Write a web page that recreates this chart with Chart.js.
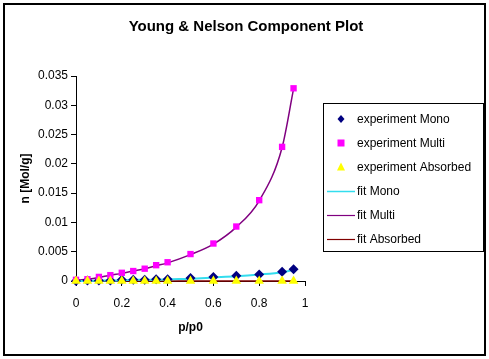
<!DOCTYPE html>
<html>
<head>
<meta charset="utf-8">
<script src="https://cdn.jsdelivr.net/npm/chart.js@4/dist/chart.umd.min.js"></script>
<style>
html,body{margin:0;padding:0;background:#fff;}
#wrap{width:489px;height:359px;position:relative;}
</style>
</head>
<body>
<div id="wrap"><canvas id="c" width="489" height="359"></canvas></div>
<script>
const pressure = [0, 0.05, 0.1, 0.15, 0.2, 0.25, 0.3, 0.35, 0.4, 0.5, 0.6, 0.7, 0.8, 0.9, 0.95];
const expMono = [0.0000, 0.0001, 0.0001, 0.0001, 0.0002, 0.0002, 0.0002, 0.0003, 0.0003, 0.0005, 0.0007, 0.0009, 0.0011, 0.0016, 0.0020];
const expMulti = [0.0002, 0.0003, 0.0007, 0.0010, 0.0014, 0.0017, 0.0021, 0.0027, 0.0032, 0.0046, 0.0064, 0.0093, 0.0138, 0.0229, 0.0329];
const expAbsorbed = [0, 0, 0, 0, 0, 0, 0, 0, 0, 0, 0, 0, 0, 0, 0];
const fitMono = [0.0000, 0.0000, 0.0001, 0.0001, 0.0001, 0.0002, 0.0002, 0.0002, 0.0003, 0.0004, 0.0006, 0.0008, 0.0011, 0.0015, 0.0019];
const fitMulti = [0.0001, 0.0003, 0.0006, 0.0010, 0.0013, 0.0017, 0.0021, 0.0026, 0.0031, 0.0045, 0.0063, 0.0092, 0.0137, 0.0228, 0.0328];
const fitAbsorbed = [0, 0, 0, 0, 0, 0, 0, 0, 0, 0, 0, 0, 0, 0, 0];
const yTicks = [0, 0.005, 0.01, 0.015, 0.02, 0.025, 0.03, 0.035];
const xTicks = [0, 0.2, 0.4, 0.6, 0.8, 1];
const chartTitle = 'Young & Nelson Component Plot';

const pts = arr => pressure.map((x, i) => ({x: x, y: arr[i]}));
const FONT = "'Liberation Sans', Arial, sans-serif";

const datasets = [
  {label: 'experiment Mono', data: pts(expMono), showLine: false, pointStyle: 'rectRot', pointRadius: 5, backgroundColor: '#000080', borderColor: '#000080', borderWidth: 0, order: 2, clip: false},
  {label: 'experiment Multi', data: pts(expMulti), showLine: false, pointStyle: 'rect', pointRadius: 4.5, backgroundColor: '#FF00FF', borderColor: '#FF00FF', borderWidth: 0, order: 1, clip: false},
  {label: 'experiment Absorbed', data: pts(expAbsorbed), showLine: false, pointStyle: 'triangle', pointRadius: 5.5, backgroundColor: '#FFFF00', borderColor: '#FFFF00', borderWidth: 0, order: 0, clip: false},
  {label: 'fit Mono', data: pts(fitMono), showLine: true, pointRadius: 0, borderColor: '#33DDEE', borderWidth: 2, cubicInterpolationMode: 'monotone', order: 3, clip: false},
  {label: 'fit Multi', data: pts(fitMulti), showLine: true, pointRadius: 0, borderColor: '#800080', borderWidth: 1.5, cubicInterpolationMode: 'monotone', order: 4, clip: false},
  {label: 'fit Absorbed', data: pts(fitAbsorbed), showLine: true, pointRadius: 0, borderColor: '#800000', borderWidth: 1.5, cubicInterpolationMode: 'monotone', order: 5, clip: false}
];

const framePlugin = {
  id: 'frame',
  afterDraw(chart) {
    const ctx = chart.ctx;
    ctx.save();
    ctx.strokeStyle = '#000';
    ctx.lineWidth = 2;
    ctx.strokeRect(4, 4, 481, 351);
    ctx.fillStyle = '#000';
    ctx.font = 'bold 15px ' + FONT;
    ctx.textAlign = 'center';
    ctx.textBaseline = 'middle';
    ctx.fillText(chartTitle, 246, 27);
    const lx = 323.5, ly = 103.5, lw = 160, lh = 148;
    ctx.lineWidth = 1;
    ctx.strokeRect(lx, ly, lw, lh);
    ctx.font = '12px ' + FONT;
    ctx.textAlign = 'left';
    chart.data.datasets.forEach((ds, i) => {
      const y = 119 + i * 24;
      const cx = 341;
      if (ds.showLine) {
        ctx.strokeStyle = ds.borderColor;
        ctx.lineWidth = ds.borderWidth > 1.5 ? 1.5 : 1.2;
        ctx.beginPath();
        ctx.moveTo(327, y + 0.5);
        ctx.lineTo(355, y + 0.5);
        ctx.stroke();
      } else {
        ctx.fillStyle = ds.backgroundColor;
        ctx.beginPath();
        if (ds.pointStyle === 'rect') {
          ctx.rect(cx - 3.5, y - 3.5, 7, 7);
        } else if (ds.pointStyle === 'rectRot') {
          ctx.moveTo(cx, y - 4); ctx.lineTo(cx + 3.5, y); ctx.lineTo(cx, y + 4); ctx.lineTo(cx - 3.5, y); ctx.closePath();
        } else {
          ctx.moveTo(cx, y - 4.5); ctx.lineTo(cx + 4, y + 3.5); ctx.lineTo(cx - 4, y + 3.5); ctx.closePath();
        }
        ctx.fill();
      }
      ctx.fillStyle = '#000';
      ctx.fillText(ds.label, 357, y + 0.5);
    });
    ctx.restore();
  }
};

new Chart(document.getElementById('c'), {
  type: 'scatter',
  data: {datasets: datasets},
  options: {
    responsive: false,
    animation: false,
    devicePixelRatio: 1,
    layout: {padding: {left: 10, right: 184, top: 76, bottom: 18}},
    plugins: {
      legend: {display: false},
      tooltip: {enabled: false},
      title: {display: false}
    },
    scales: {
      x: {
        type: 'linear',
        min: 0, max: 1,
        afterFit(s) { s.height = 60; },
        afterBuildTicks(s) { s.ticks = xTicks.map(v => ({value: v})); },
        border: {display: true, color: '#000', width: 1},
        grid: {drawOnChartArea: false, drawTicks: true, tickLength: 5, color: '#000'},
        ticks: {color: '#000', font: {family: FONT, size: 12}, padding: 10, maxRotation: 0,
                callback: v => String(+v.toFixed(3))},
        title: {display: true, text: 'p/p0', color: '#000', font: {family: FONT, size: 12, weight: 'bold'}, padding: {top: 0, bottom: 6}}
      },
      y: {
        type: 'linear',
        min: 0, max: 0.035,
        afterFit(s) { s.width = 66; },
        afterBuildTicks(s) { s.ticks = yTicks.map(v => ({value: v})); },
        border: {display: true, color: '#000', width: 1},
        grid: {drawOnChartArea: false, drawTicks: true, tickLength: 5, color: '#000'},
        ticks: {color: '#000', font: {family: FONT, size: 12}, padding: 3,
                callback: v => String(+v.toFixed(3))},
        title: {display: true, text: 'n [Mol/g]', color: '#000', font: {family: FONT, size: 12, weight: 'bold'}, padding: {top: 8, bottom: 0}}
      }
    }
  },
  plugins: [framePlugin]
});
</script>
</body>
</html>
